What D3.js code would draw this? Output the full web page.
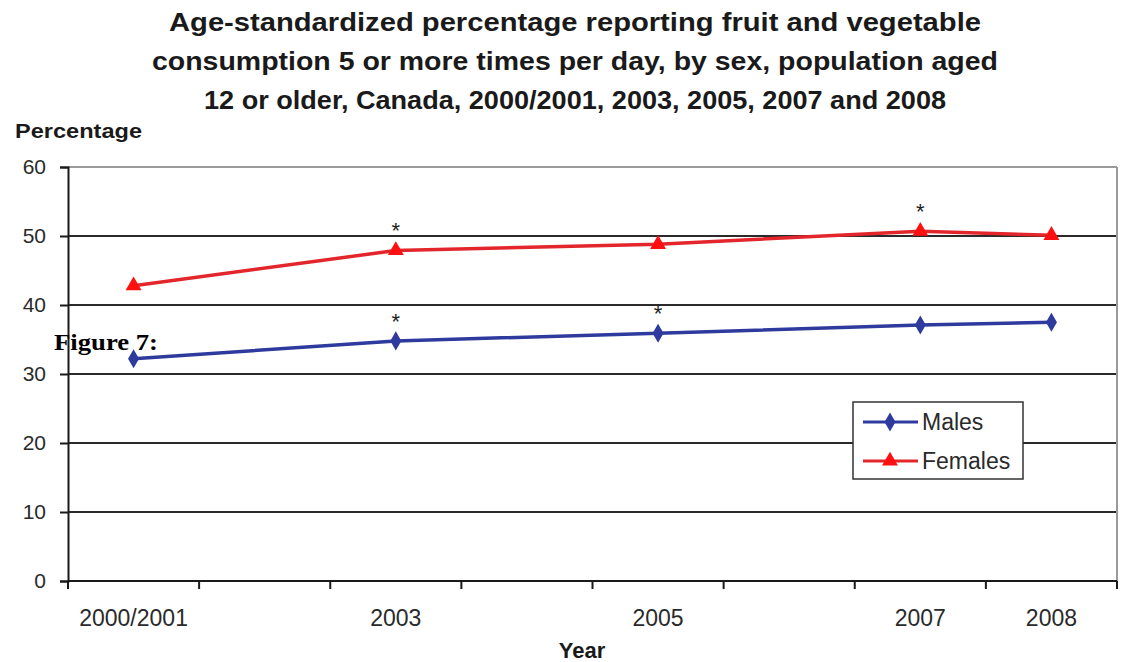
<!DOCTYPE html>
<html>
<head>
<meta charset="utf-8">
<script src="https://cdn.jsdelivr.net/npm/d3@7"></script>
<style>
  html, body { margin: 0; padding: 0; background: #fff; }
  svg { display: block; }
</style>
</head>
<body>
<svg id="chart" width="1122" height="662"></svg>
<script>
// Category slots along the x axis (one per year, some left unlabelled)
const categories = ["2000/2001", "2002", "2003", "2004", "2005", "2006", "2007", "2008"];
const tickLabels = ["2000/2001", "", "2003", "", "2005", "", "2007", "2008"];
// Survey cycles with data
const years = ["2000/2001", "2003", "2005", "2007", "2008"];
const males = [32.2, 34.8, 35.9, 37.1, 37.5];
const females = [42.8, 47.9, 48.8, 50.7, 50.1];
// Significant difference markers (*)
const malesStar = [false, true, true, false, false];
const femalesStar = [false, true, false, true, false];
const yTicks = [0, 10, 20, 30, 40, 50, 60];
const titleLines = [
  "Age-standardized percentage reporting fruit and vegetable",
  "consumption 5 or more times per day, by sex, population aged",
  "12 or older, Canada, 2000/2001, 2003, 2005, 2007 and 2008"
];

const svg = d3.select("#chart");
const plotLeft = 68, plotRight = 1117, plotTop = 167, plotBottom = 581;
const sans = "'Liberation Sans', Arial, sans-serif";

const x = d3.scaleBand().domain(categories).range([plotLeft, plotRight]).padding(0);
const y = d3.scaleLinear().domain([0, 60]).range([plotBottom, plotTop]);
const cx = c => x(c) + x.bandwidth() / 2;

// Title
const title = svg.append("g")
  .attr("font-family", sans)
  .attr("font-weight", "bold")
  .attr("font-size", 25)
  .attr("fill", "#1a1a1a")
  .attr("text-anchor", "middle");
const titleWidths = [812, 846, 742];
titleLines.forEach((t, i) => {
  title.append("text")
    .attr("x", 575)
    .attr("y", 31 + i * 39)
    .attr("textLength", titleWidths[i])
    .attr("lengthAdjust", "spacingAndGlyphs")
    .text(t);
});

// Y axis title
svg.append("text")
  .attr("x", 15).attr("y", 138)
  .attr("font-family", sans)
  .attr("font-weight", "bold")
  .attr("font-size", 21)
  .attr("textLength", 127)
  .attr("lengthAdjust", "spacingAndGlyphs")
  .attr("fill", "#1a1a1a")
  .text("Percentage");

// Horizontal gridlines
svg.append("g")
  .selectAll("line")
  .data(yTicks.filter(v => v > 0))
  .join("line")
  .attr("x1", plotLeft).attr("x2", plotRight)
  .attr("y1", d => y(d)).attr("y2", d => y(d))
  .attr("stroke", d => d === 60 ? "#9a9a9a" : "#2a2a2a")
  .attr("stroke-width", 2);

// Plot area right border
svg.append("line")
  .attr("x1", plotRight).attr("x2", plotRight)
  .attr("y1", y(60)).attr("y2", y(0))
  .attr("stroke", "#9a9a9a").attr("stroke-width", 2);

// Y axis
const yAxis = svg.append("g")
  .attr("transform", `translate(${plotLeft},0)`)
  .call(d3.axisLeft(y).tickValues(yTicks).tickSize(8).tickPadding(14).tickFormat(d3.format("d")));
yAxis.select(".domain").attr("stroke", "#1a1a1a").attr("stroke-width", 2);
yAxis.selectAll(".tick line").attr("stroke", "#1a1a1a").attr("stroke-width", 2);
yAxis.selectAll(".tick text")
  .attr("font-family", sans)
  .attr("font-size", 21)
  .attr("fill", "#2a2a2a");

// X axis: labels centred in slots, ticks on slot boundaries
const xAxis = svg.append("g")
  .attr("transform", `translate(0,${plotBottom})`)
  .call(d3.axisBottom(x).tickSize(0).tickPadding(29)
    .tickFormat((d, i) => tickLabels[i]));
xAxis.select(".domain").remove();
xAxis.selectAll(".tick text")
  .attr("font-family", sans)
  .attr("font-size", 23)
  .attr("fill", "#2a2a2a");
svg.append("line")
  .attr("x1", plotLeft).attr("x2", plotRight)
  .attr("y1", plotBottom).attr("y2", plotBottom)
  .attr("stroke", "#1a1a1a").attr("stroke-width", 2);
const boundaries = categories.map(c => x(c)).concat([x.range()[1]]);
svg.append("g")
  .selectAll("line")
  .data(boundaries)
  .join("line")
  .attr("x1", d => d).attr("x2", d => d)
  .attr("y1", plotBottom).attr("y2", plotBottom + 8)
  .attr("stroke", "#1a1a1a").attr("stroke-width", 2);

// X axis title
svg.append("text")
  .attr("x", 582).attr("y", 658)
  .attr("text-anchor", "middle")
  .attr("font-family", sans)
  .attr("font-weight", "bold")
  .attr("font-size", 22)
  .attr("fill", "#1a1a1a")
  .text("Year");

// Series
const series = [
  { name: "Males", values: males, stars: malesStar, line: "#2f3a9e", marker: "#2f3a9e", symbol: d3.symbolDiamond, size: 105 },
  { name: "Females", values: females, stars: femalesStar, line: "#e3262b", marker: "#ff1010", symbol: d3.symbolTriangle, size: 110 }
];

const lineGen = d3.line().x(d => cx(d.year)).y(d => y(d.value));

series.forEach(s => {
  const pts = years.map((yr, i) => ({ year: yr, value: s.values[i], star: s.stars[i] }));
  const g = svg.append("g");
  g.append("path")
    .datum(pts)
    .attr("d", lineGen)
    .attr("fill", "none")
    .attr("stroke", s.line)
    .attr("stroke-width", 3.5)
    .attr("stroke-linejoin", "round");
  g.selectAll("path.marker")
    .data(pts)
    .join("path")
    .attr("class", "marker")
    .attr("transform", d => `translate(${cx(d.year)},${y(d.value)})`)
    .attr("d", d3.symbol().type(s.symbol).size(s.size))
    .attr("fill", s.marker);
  g.selectAll("text.star")
    .data(pts.filter(d => d.star))
    .join("text")
    .attr("class", "star")
    .attr("x", d => cx(d.year))
    .attr("y", d => y(d.value) - 12)
    .attr("text-anchor", "middle")
    .attr("font-family", sans)
    .attr("font-size", 22)
    .attr("fill", "#222")
    .text("*");
});

// Legend
const legend = svg.append("g").attr("transform", "translate(853,402)");
legend.append("rect")
  .attr("width", 170).attr("height", 77)
  .attr("fill", "#fff")
  .attr("stroke", "#333").attr("stroke-width", 1.5);
series.forEach((s, i) => {
  const ly = 20 + i * 39;
  legend.append("line")
    .attr("x1", 10).attr("x2", 65)
    .attr("y1", ly).attr("y2", ly)
    .attr("stroke", s.line).attr("stroke-width", 3);
  legend.append("path")
    .attr("transform", `translate(37,${ly})`)
    .attr("d", d3.symbol().type(s.symbol).size(s.size))
    .attr("fill", s.marker);
  legend.append("text")
    .attr("x", 69).attr("y", ly + 8)
    .attr("font-family", sans)
    .attr("font-size", 23)
    .attr("fill", "#2a2a2a")
    .text(s.name);
});

// Figure caption overlay
svg.append("text")
  .attr("x", 54).attr("y", 350)
  .attr("font-family", "'Liberation Serif', 'Times New Roman', serif")
  .attr("font-weight", "bold")
  .attr("font-size", 23)
  .attr("textLength", 104)
  .attr("lengthAdjust", "spacingAndGlyphs")
  .attr("fill", "#000")
  .text("Figure 7:");
</script>
</body>
</html>
